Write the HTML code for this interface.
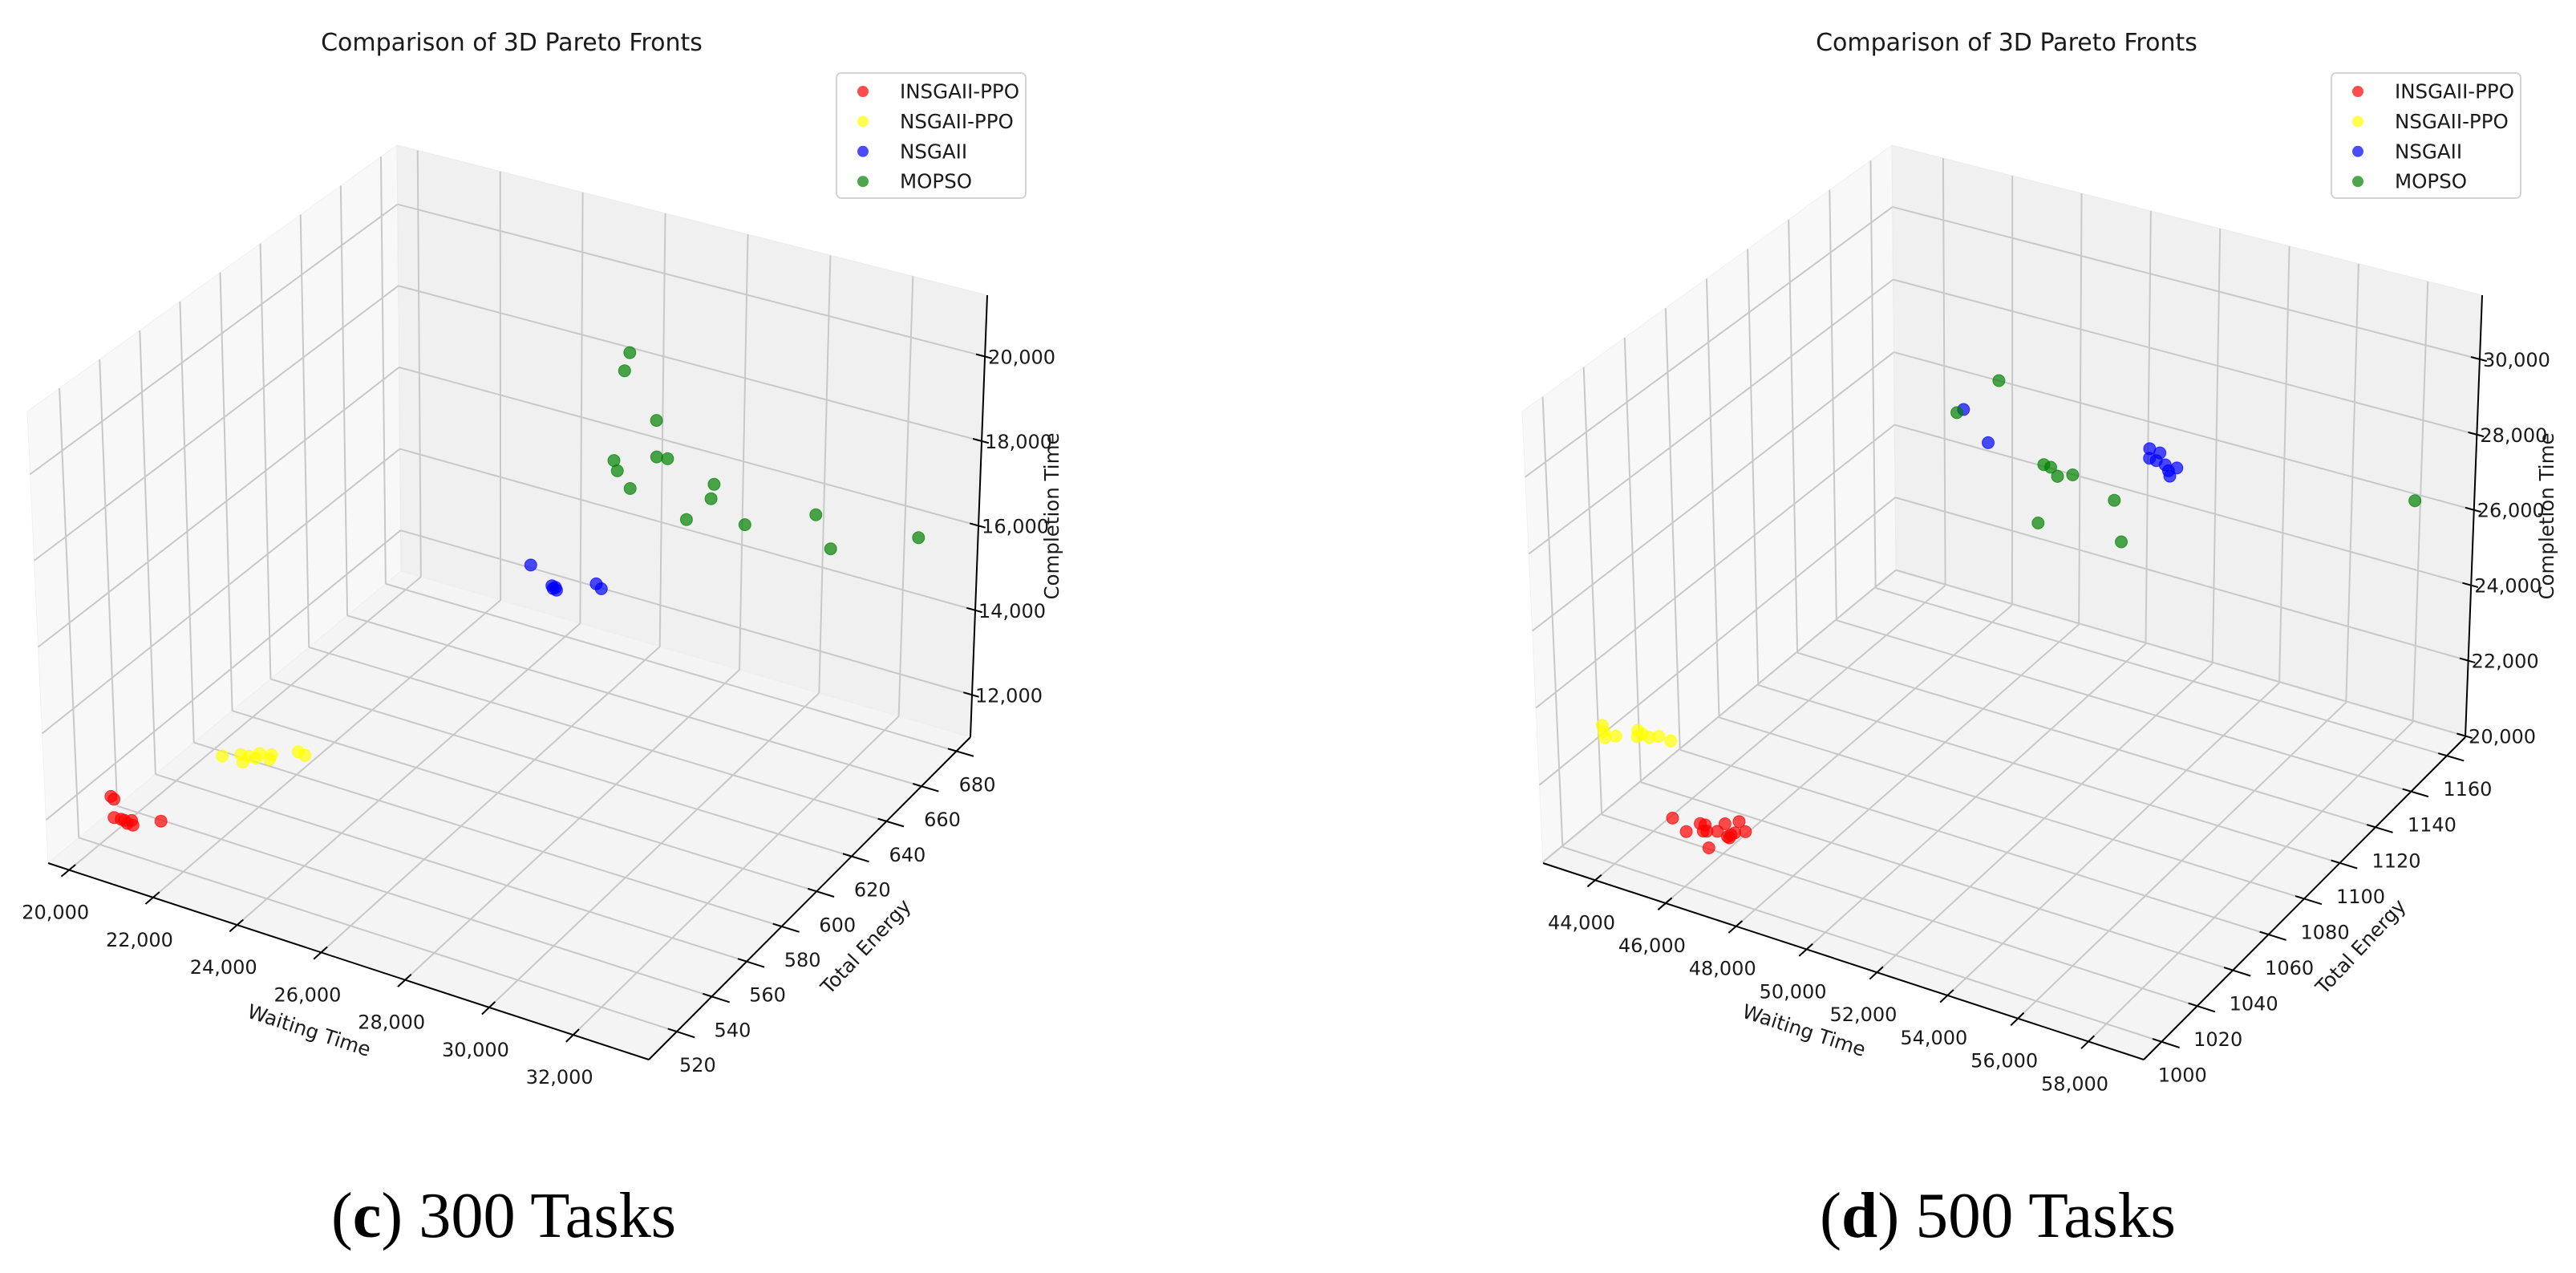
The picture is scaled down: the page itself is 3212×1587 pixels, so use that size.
<!DOCTYPE html>
<html>
<head>
<meta charset="utf-8">
<style>
html,body{margin:0;padding:0;background:#ffffff;}
svg{display:block;}
text{font-family:"DejaVu Sans","Liberation Sans",sans-serif;fill:#1a1a1a;}
.cap{font-family:"Liberation Serif",serif;fill:#000;}
</style>
</head>
<body>
<svg id="fig" width="3212" height="1587" viewBox="0 0 3212 1587" xmlns="http://www.w3.org/2000/svg"></svg>
<script>
// ---------- Panel (c): 300 tasks ----------
const xTicksC = [20000, 22000, 24000, 26000, 28000, 30000, 32000];
const yTicksC = [520, 540, 560, 580, 600, 620, 640, 660, 680];
const zTicksC = [12000, 14000, 16000, 18000, 20000];
const xLimC = [19500, 33800];
const yLimC = [504, 688];
const zLimC = [11000, 21450];

const redXC = [19483, 19593, 19689, 19929, 20054, 20042, 20174, 20577, 19845];
const redYC = [537.4, 536.6, 534.3, 534.5, 535.5, 533.6, 533.6, 539.5, 534.6];
const redZC = [11314, 11314, 11000, 11000, 11000, 11000, 11000, 11000, 11000];

const yelXC = [21057, 21346, 21540, 21686, 21659, 21955, 21892, 22308, 22496, 21529];
const yelYC = [561.8, 565.2, 562.1, 565.7, 568.3, 567.1, 569.5, 574.5, 573.9, 565.5];
const yelZC = [11836, 11836, 11836, 11836, 11836, 11836, 11836, 11836, 11836, 11836];

const bluXC = [24611, 25440, 25523, 25617, 25540, 26215, 26413];
const bluYC = [648.1, 641.3, 640.2, 639.9, 641.0, 648.1, 646.5];
const bluZC = [14135, 14135, 14135, 14135, 14135, 14135, 14135];

const grnXC = [27639, 27522, 28296, 27293, 28313, 28574, 27376, 27689, 29694, 29630, 29050, 30451, 32137, 32514, 32728];
const grnYC = [632.8, 632.8, 632.8, 632.8, 632.8, 632.8, 632.8, 632.8, 632.8, 632.8, 632.8, 632.8, 632.8, 632.8, 678.8];
const grnZC = [20587, 20127, 19162, 17944, 18307, 18334, 17724, 17391, 18035, 17680, 17030, 17292, 17982, 17289, 15801];

// ---------- Panel (d): 500 tasks ----------
const xTicksD = [44000, 46000, 48000, 50000, 52000, 54000, 56000, 58000];
const yTicksD = [1000, 1020, 1040, 1060, 1080, 1100, 1120, 1140, 1160];
const zTicksD = [20000, 22000, 24000, 26000, 28000, 30000];
const xLimD = [42520, 59570];
const yLimD = [990, 1170.4];
const zLimD = [19970, 31700];

const redXD = [44076, 44692, 44787, 44922, 45111, 45335, 45311, 45674, 45705, 45737, 45551, 45931, 45561, 45036, 45747];
const redYD = [1028.5, 1024.5, 1030.0, 1030.1, 1027.6, 1029.0, 1033.4, 1028.1, 1029.4, 1030.8, 1036.4, 1032.8, 1020.5, 1027.1, 1027.8];
const redZD = [19970, 19970, 19970, 19970, 19970, 19970, 19970, 19970, 19970, 19970, 19970, 19970, 19970, 19970, 19970];

const yelXD = [43193, 43383, 43557, 43737, 44041, 44186, 44232, 44452, 44619, 44974];
const yelYD = [1010.5, 1007.9, 1005.2, 1007.5, 1013.2, 1010.3, 1012.2, 1011.7, 1013.5, 1013.1];
const yelZD = [22900, 22900, 22900, 22900, 22900, 22900, 22900, 22900, 22900, 22900];

const bluXD = [46641, 47351, 52013, 52309, 52013, 52210, 52468, 52565, 52802, 52604];
const bluYD = [1134.3, 1134.3, 1134.3, 1134.3, 1134.3, 1134.3, 1134.3, 1134.3, 1134.3, 1134.3];
const bluZD = [27029, 26316, 27350, 27315, 27097, 27084, 27036, 26902, 27038, 26769];

const grnXD = [47463, 48665, 49954, 50152, 50349, 50781, 51980, 49797, 52195, 58297];
const grnYD = [1116.3, 1116.3, 1116.3, 1116.3, 1116.3, 1116.3, 1116.3, 1116.3, 1116.3, 1161.4];
const grnZD = [27919, 29084, 27176, 27157, 26964, 27115, 26751, 25579, 25705, 26341];

const seriesNames = ["INSGAII-PPO", "NSGAII-PPO", "NSGAII", "MOPSO"];
const seriesColors = ["#ff0000", "#ffff00", "#0000ff", "#008000"];

// ---------- geometry (screen corners of the unit cube, left panel) ----------
const G = {
  p000: [60, 1076], p100: [809, 1321], p110: [1210, 919], p010: [500, 712],
  p001: [34, 513], p101: [830, 741], p111: [1231, 368], p011: [495, 181]
};
const NS = "http://www.w3.org/2000/svg";
const svg = document.getElementById("fig");

function mk(tag, attrs, parent) {
  const e = document.createElementNS(NS, tag);
  for (const k in attrs) e.setAttribute(k, attrs[k]);
  (parent || svg).appendChild(e);
  return e;
}
function fmt(n, comma) {
  const s = String(n);
  return comma ? s.replace(/\B(?=(\d{3})+(?!\d))/g, ",") : s;
}
function tri(dx, u, v, w) {
  const c = [
    [(1-u)*(1-v)*(1-w), G.p000], [u*(1-v)*(1-w), G.p100], [u*v*(1-w), G.p110], [(1-u)*v*(1-w), G.p010],
    [(1-u)*(1-v)*w, G.p001], [u*(1-v)*w, G.p101], [u*v*w, G.p111], [(1-u)*v*w, G.p011]
  ];
  let x = 0, y = 0;
  for (const [k, p] of c) { x += k * p[0]; y += k * p[1]; }
  return [x + dx, y];
}

function drawPanel(cfg) {
  const dx = cfg.dx;
  const nx = x => (x - cfg.xLim[0]) / (cfg.xLim[1] - cfg.xLim[0]);
  const ny = y => (y - cfg.yLim[0]) / (cfg.yLim[1] - cfg.yLim[0]);
  const nz = z => (z - cfg.zLim[0]) / (cfg.zLim[1] - cfg.zLim[0]);
  const P = (u, v, w) => tri(dx, u, v, w);
  const pts = arr => arr.map(p => p[0].toFixed(1) + "," + p[1].toFixed(1)).join(" ");

  const g = mk("g", {});
  
  

  const leftPane = mk("polygon", {points: pts([P(0,0,0), P(0,1,0), P(0,1,1), P(0,0,1)]), fill: "#f8f8f8", stroke: "#f0f0f0", "stroke-width": 1}, g);
  
  
  const backPane = mk("polygon", {points: pts([P(0,1,0), P(1,1,0), P(1,1,1), P(0,1,1)]), fill: "#f0f0f0", stroke: "#ebebeb", "stroke-width": 1}, g);
  
  
  const floorPane = mk("polygon", {points: pts([P(0,0,0), P(1,0,0), P(1,1,0), P(0,1,0)]), fill: "#f4f4f4", stroke: "#eeeeee", "stroke-width": 1}, g);
  
  

  const grid = mk("g", {stroke: "#c8c8c8", "stroke-width": 2, fill: "none"}, g);
  
  
  function gl(a, b) {
    const l = mk("line", {x1: a[0], y1: a[1], x2: b[0], y2: b[1]}, grid);
    
    
  }
  cfg.xTicks.forEach(t => { const u = nx(t); gl(P(u,0,0), P(u,1,0)); gl(P(u,1,0), P(u,1,1)); });
  cfg.yTicks.forEach(t => { const v = ny(t); gl(P(0,v,0), P(1,v,0)); gl(P(0,v,0), P(0,v,1)); });
  cfg.zTicks.forEach(t => { const w = nz(t); gl(P(0,0,w), P(0,1,w)); gl(P(0,1,w), P(1,1,w)); });

  const ax = mk("g", {stroke: "#000", "stroke-width": 2, fill: "none"}, g);
  
  
  function al(a, b, name) {
    const l = mk("line", {x1: a[0], y1: a[1], x2: b[0], y2: b[1]}, ax);
    
    
  }
  al(P(0,0,0), P(1,0,0), 'x-axis-line');
  al(P(1,0,0), P(1,1,0), 'y-axis-line');
  al(P(1,1,0), P(1,1,1), 'z-axis-line');

  cfg.xTicks.forEach(t => {
    const u = nx(t);
    al(P(u,-0.022,0), P(u,0.018,0), 'x-tick');
    const p = P(u,0,0);
    const tx = mk("text", {x: p[0] - 17, y: p[1] + 53, "font-size": 24, "text-anchor": "middle", "dominant-baseline": "central"}, g);
    tx.textContent = fmt(t, true);
    
    
  });
  cfg.yTicks.forEach(t => {
    const v = ny(t);
    al(P(0.985,v,0), P(1.03,v,0), 'y-tick');
    const p = P(1,v,0);
    const tx = mk("text", {x: p[0] + 26, y: p[1] + 42, "font-size": 24, "text-anchor": "middle", "dominant-baseline": "central"}, g);
    tx.textContent = fmt(t, false);
    
    
  });
  cfg.zTicks.forEach(t => {
    const w = nz(t);
    al(P(0.985,1,w), P(1.012,1,w), 'z-tick');
    const p = P(1,1,w);
    const tx = mk("text", {x: p[0] + 4, y: p[1] + 1, "font-size": 24, "text-anchor": "start", "dominant-baseline": "central"}, g);
    tx.textContent = fmt(t, true);
    
    
  });

  const xm = P(0.5,0,0), ym = P(1,0.5,0), zm = P(1,1,0.5);
  const xt = mk("text", {x: xm[0] - 49, y: xm[1] + 86, "font-size": 24.5, "text-anchor": "middle", "dominant-baseline": "central", transform: `rotate(18 ${xm[0]-49} ${xm[1]+86})`}, g);
  xt.textContent = "Waiting Time";
  
  
  const yt = mk("text", {x: ym[0] + 70, y: ym[1] + 60, "font-size": 24.5, "text-anchor": "middle", "dominant-baseline": "central", transform: `rotate(-47 ${ym[0]+70} ${ym[1]+60})`}, g);
  yt.textContent = "Total Energy";
  
  
  const zt = mk("text", {x: zm[0] + 91, y: zm[1], "font-size": 24.5, "text-anchor": "middle", "dominant-baseline": "central", transform: `rotate(-90 ${zm[0]+91} ${zm[1]})`}, g);
  zt.textContent = "Completion Time";
  
  

  cfg.series.forEach((s, si) => {
    const sg = mk("g", {fill: seriesColors[si], "fill-opacity": 0.7, stroke: seriesColors[si], "stroke-opacity": 0.7, "stroke-width": 1}, g);
    
    
    s[0].forEach((xv, i) => {
      const p = P(nx(xv), ny(s[1][i]), nz(s[2][i]));
      const c = mk("circle", {cx: p[0].toFixed(1), cy: p[1].toFixed(1), r: 7.5}, sg);
      
      
    });
  });

  const tt = mk("text", {x: 638 + dx, y: 63, "font-size": 30, "text-anchor": "middle"}, g);
  tt.textContent = "Comparison of 3D Pareto Fronts";
  
  

  const lg = mk("g", {}, g);
  
  
  const lb = mk("rect", {x: 1043 + dx, y: 91, width: 236, height: 156, rx: 6, fill: "#ffffff", "fill-opacity": 0.85, stroke: "#d4d4d4", "stroke-width": 2}, lg);
  
  
  seriesNames.forEach((n, i) => {
    const yy = 114 + i * 37.4;
    const m = mk("circle", {cx: 1076 + dx, cy: yy, r: 7, fill: seriesColors[i], "fill-opacity": 0.7}, lg);
    
    
    const t = mk("text", {x: 1122 + dx, y: yy, "font-size": 24.5, "dominant-baseline": "central"}, lg);
    t.textContent = n;
    
    
  });

  const cp = mk("text", {x: cfg.capX, y: 1542, "font-size": 80, class: "cap", textLength: cfg.capW, lengthAdjust: "spacingAndGlyphs"}, svg);
  
  
  const t1 = mk("tspan", {}, cp); t1.textContent = "(";
  const t2 = mk("tspan", {"font-weight": "bold"}, cp); t2.textContent = cfg.letter;
  const t3 = mk("tspan", {}, cp); t3.textContent = ") " + cfg.capText;
}

drawPanel({
  id: "panel-c", dx: 0, xLim: xLimC, yLim: yLimC, zLim: zLimC,
  xTicks: xTicksC, yTicks: yTicksC, zTicks: zTicksC,
  series: [[redXC, redYC, redZC], [yelXC, yelYC, yelZC], [bluXC, bluYC, bluZC], [grnXC, grnYC, grnZC]],
  capX: 413, capW: 430, letter: "c", capText: "300 Tasks"
});
drawPanel({
  id: "panel-d", dx: 1864, xLim: xLimD, yLim: yLimD, zLim: zLimD,
  xTicks: xTicksD, yTicks: yTicksD, zTicks: zTicksD,
  series: [[redXD, redYD, redZD], [yelXD, yelYD, yelZD], [bluXD, bluYD, bluZD], [grnXD, grnYD, grnZD]],
  capX: 2269, capW: 444, letter: "d", capText: "500 Tasks"
});
</script>
</body>
</html>
